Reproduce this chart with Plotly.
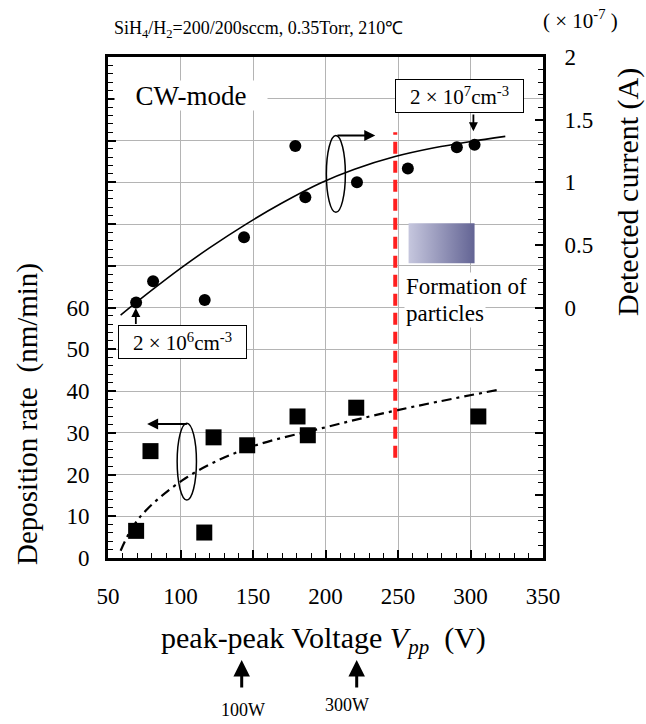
import plotly.graph_objects as go

# ---- measured data ----
# detected current (x1e-7 A) vs peak-peak voltage
vpp_current = [69.4, 81.1, 116.7, 143.8, 179.2, 186.1, 221.7, 256.8, 290.6, 302.8]
current = [0.04, 0.21, 0.06, 0.56, 1.29, 0.88, 1.00, 1.11, 1.28, 1.30]

# deposition rate (nm/min) vs peak-peak voltage
vpp_rate = [69.4, 79.3, 116.4, 122.8, 146.0, 180.7, 187.8, 221.2, 305.4]
rate = [6.5, 25.6, 6.1, 28.9, 27.0, 33.9, 29.4, 36.0, 33.9]

# guide-to-the-eye curves
fit_current_x = [58.7, 80, 100, 120, 145, 170, 197, 220, 248, 275, 300, 324]
fit_current_y = [-0.06, 0.136, 0.312, 0.476, 0.664, 0.834, 0.996, 1.104, 1.205, 1.275, 1.325, 1.366]
fit_rate_x = [58.7, 71.3, 103.4, 146.2, 197.6, 248.1, 319.3]
fit_rate_y = [1.75, 9.5, 19.1, 26.3, 31.1, 35.3, 40.3]

# axis ticks
x_ticks = [50, 100, 150, 200, 250, 300, 350]
left_ticks = list(range(0, 121, 10))
left_labels = [str(v) if v <= 60 else "" for v in left_ticks]
right_ticks = [-2, -1.5, -1, -0.5, 0, 0.5, 1, 1.5, 2]
right_labels = ["", "", "", "", "0", "0.5", "1", "1.5", "2"]

FONT = "Liberation Serif, Times New Roman, serif"
W, H = 646, 724
L, R, T, B = 108, 103, 57, 166
PW, PH = W - L - R, H - T - B


def px(xp):
    return (xp - L) / PW


def py(yp):
    return (H - B - yp) / PH


def yl(yp):
    # pixel row -> left-axis value
    return (H - B - yp) / PH * 120


fig = go.Figure()

# particle-formation colour bar
fig.add_trace(go.Scatter(
    x=[257.3, 302.8, 302.8, 257.3, 257.3], y=[70.6, 70.6, 80.2, 80.2, 70.6],
    mode="lines", fill="toself", line=dict(width=0),
    fillgradient=dict(type="horizontal",
                      colorscale=[[0, "#c6c7de"], [1, "#636494"]]),
    hoverinfo="skip", showlegend=False, yaxis="y"))

fig.add_trace(go.Scatter(
    x=fit_rate_x, y=fit_rate_y, mode="lines", line_shape="spline",
    line=dict(color="black", width=2.2, dash="10px,5px,3px,5px"),
    showlegend=False, yaxis="y"))
fig.add_trace(go.Scatter(
    x=vpp_rate, y=rate, mode="markers",
    marker=dict(symbol="square", size=16, color="black"),
    showlegend=False, yaxis="y"))

fig.add_trace(go.Scatter(
    x=fit_current_x, y=fit_current_y, mode="lines", line_shape="spline",
    line=dict(color="black", width=1.6), showlegend=False, yaxis="y2"))
fig.add_trace(go.Scatter(
    x=vpp_current, y=current, mode="markers",
    marker=dict(symbol="circle", size=12, color="black"),
    showlegend=False, yaxis="y2"))

shapes = [
    # onset of particle formation
    dict(type="line", xref="x", yref="y", x0=248.1, x1=248.1, y0=24, y1=102,
         line=dict(color="#ff1f1f", width=4, dash="12px,7px")),
    # ellipses grouping each data set
    dict(type="circle", xref="x", yref="y", x0=200.6, x1=213.7, y0=82.8, y1=101.2,
         line=dict(color="black", width=1.5)),
    dict(type="circle", xref="x", yref="y", x0=97.7, x1=111.0, y0=13.9, y1=32.3,
         line=dict(color="black", width=1.5)),
]

tf = dict(family=FONT, color="black")
ann = []


def arrow(x, y, ax, ay, width=2, size=1.0):
    ann.append(dict(x=x, y=y, ax=ax, ay=ay, xref="x", yref="y",
                    axref="x", ayref="y", text="", showarrow=True,
                    arrowhead=2, arrowsize=size, arrowwidth=width,
                    arrowcolor="black"))


def label(xp, yp, text, size, **kw):
    ann.append(dict(x=px(xp), y=py(yp), xref="paper", yref="paper",
                    xanchor="center", yanchor="middle", showarrow=False,
                    text=text, font=dict(size=size, **tf), **kw))


# ellipse pointers to their axes
arrow(234.3, 101.2, 207.2, 101.2, width=2.2)
arrow(77.0, 32.1, 105.4, 32.1, width=2.2)
# density call-outs
arrow(302.0, 102.2, 302.0, 106.6, width=1.8)
arrow(69.2, 59.9, 69.2, 55.7, width=1.8)

ann += [
    dict(x=107.0, y=110.7, xref="x", yref="y", text="CW-mode", showarrow=False,
         xanchor="center", yanchor="middle",
         font=dict(size=27, **tf), bgcolor="white", width=150, height=27),
    dict(x=292.6, y=110.7, xref="x", yref="y",
         text="2 × 10<sup>7</sup>cm<sup>-3</sup>", showarrow=False,
         xanchor="center", yanchor="middle",
         font=dict(size=21, **tf), bgcolor="white", bordercolor="black",
         borderwidth=1, borderpad=1, width=125, height=30),
    dict(x=101.4, y=51.7, xref="x", yref="y",
         text="2 × 10<sup>6</sup>cm<sup>-3</sup>", showarrow=False,
         xanchor="center", yanchor="middle",
         font=dict(size=21, **tf), bgcolor="white", bordercolor="black",
         borderwidth=1, borderpad=1, width=125, height=30),
    dict(x=253.8, y=yl(286.7), xref="x", yref="y",
         xanchor="left", yanchor="middle", text="Formation of", showarrow=False,
         font=dict(size=23, **tf), bgcolor="white"),
    dict(x=253.8, y=yl(313), xref="x", yref="y",
         xanchor="left", yanchor="middle", text="particles", showarrow=False,
         font=dict(size=23, **tf), bgcolor="white"),
]

# header and axis titles
label(258.5, 30, "SiH<sub>4</sub>/H<sub>2</sub>=200/200sccm, 0.35Torr, 210℃", 18)
label(580, 19, "( × 10<sup>-7</sup> )", 21)
label(27, 414, "Deposition rate  (nm/min)", 29, textangle=-90)
label(628, 192, "Detected current (A)", 30, textangle=-90)
label(323, 640, "peak-peak Voltage <i>V</i><sub><i>pp</i></sub>  (V)", 30)
label(242.5, 710, "100W", 18)
label(346.7, 705, "300W", 18)

# RF power markers under the voltage axis
for xp in (241.7, 356.7):
    ann.append(dict(x=px(xp), y=py(660), xref="paper", yref="paper", text="",
                    showarrow=True, ax=0, ay=29, arrowhead=2, arrowsize=1.1,
                    arrowwidth=3, arrowcolor="black"))

axis_common = dict(showline=True, linecolor="black", ticks="inside",
                   tickcolor="black", tickwidth=1.5, ticklen=8,
                   zeroline=False, tickfont=dict(size=23, **tf))

fig.update_layout(
    width=W, height=H,
    margin=dict(l=L, r=R, t=T, b=B),
    paper_bgcolor="white", plot_bgcolor="white",
    showlegend=False,
    xaxis=dict(range=[50, 350], tickmode="array", tickvals=x_ticks,
               linewidth=3, mirror=True, showgrid=True,
               gridcolor="#b4b4b4", gridwidth=1,
               ticklabelstandoff=15,
               minor=dict(tickmode="linear", tick0=50, dtick=10,
                          ticks="inside", ticklen=5, tickwidth=1.2,
                          tickcolor="black", showgrid=False),
               **axis_common),
    yaxis=dict(range=[0, 120], tickmode="array", tickvals=left_ticks,
               ticktext=left_labels, linewidth=3, showgrid=True,
               gridcolor="#b4b4b4", gridwidth=1, ticklabelstandoff=11,
               minor=dict(tickmode="linear", tick0=0, dtick=2,
                          ticks="inside", ticklen=5, tickwidth=1.2,
                          tickcolor="black", showgrid=False),
               **axis_common),
    yaxis2=dict(range=[-2, 2], overlaying="y", side="right",
                tickmode="array", tickvals=right_ticks, ticktext=right_labels,
                linewidth=3, showgrid=False, ticklabelstandoff=14,
                minor=dict(tickmode="linear", tick0=0, dtick=0.1,
                           ticks="inside", ticklen=5, tickwidth=1.2,
                           tickcolor="black", showgrid=False),
                **axis_common),
    shapes=shapes,
    annotations=ann,
)

fig.write_html("out.html")
